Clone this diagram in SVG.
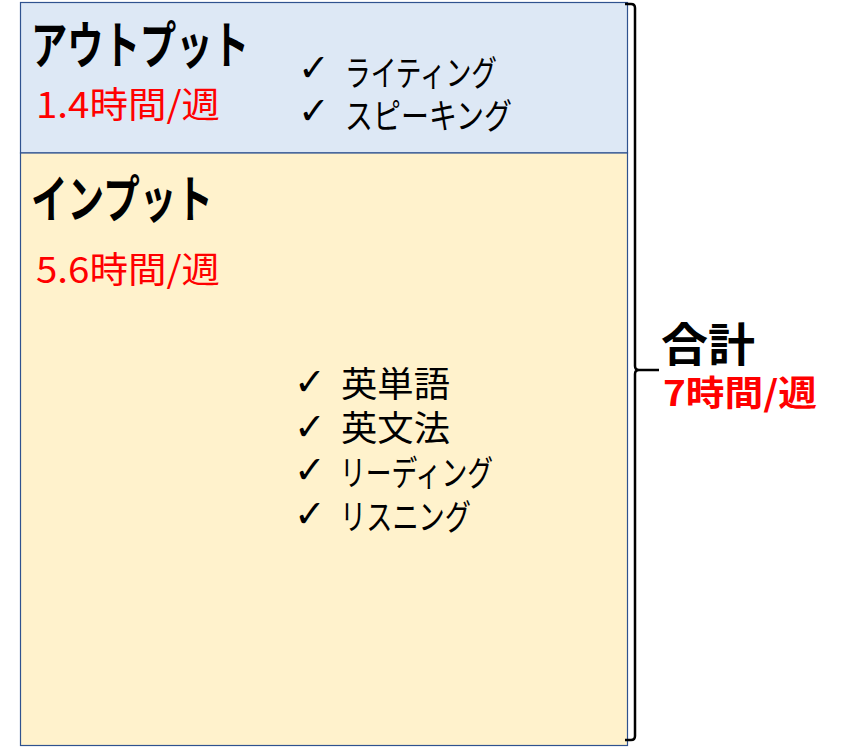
<svg xmlns="http://www.w3.org/2000/svg" width="842" height="747" viewBox="0 0 842 747">
<style>
.box{stroke:#2f528f;stroke-width:1.2}
.h{font-family:"Noto Sans CJK JP","Noto Sans",sans-serif;font-weight:700;fill:#000}
.t{font-family:"Noto Sans CJK JP","Noto Sans",sans-serif;font-weight:400;fill:#000}
.r{font-family:"Noto Sans CJK JP","Noto Sans",sans-serif;font-weight:400;fill:#ff0000}
.rb{font-family:"Noto Sans CJK JP","Noto Sans",sans-serif;font-weight:700;fill:#ff0000}
.ck{font-family:"DejaVu Sans",sans-serif;font-size:38px;font-weight:700;fill:#000}
.brace{fill:none;stroke:#000;stroke-width:2.5;stroke-linejoin:round}
</style>
<rect width="842" height="747" fill="#fff"/>
<g id="output">
<rect class="box" x="20.5" y="2.5" width="607" height="150.5" fill="#dde8f5"/>
<text class="h" x="31" y="64" font-size="51" textLength="218" lengthAdjust="spacingAndGlyphs">アウトプット</text>
<text class="r" x="36" y="118" font-size="36" textLength="184" lengthAdjust="spacingAndGlyphs">1.4時間/週</text>
<text class="ck" x="298" y="81">✓</text>
<text class="t" x="345" y="86" font-size="35" textLength="152" lengthAdjust="spacingAndGlyphs">ライティング</text>
<text class="ck" x="298" y="124">✓</text>
<text class="t" x="345" y="129" font-size="35" textLength="167" lengthAdjust="spacingAndGlyphs">スピーキング</text>
</g>
<g id="input">
<rect class="box" x="20.5" y="153" width="607" height="592.5" fill="#fff2cc"/>
<text class="h" x="31" y="218" font-size="51" textLength="182" lengthAdjust="spacingAndGlyphs">インプット</text>
<text class="r" x="36" y="283" font-size="36" textLength="184" lengthAdjust="spacingAndGlyphs">5.6時間/週</text>
<text class="ck" x="294" y="395">✓</text>
<text class="t" x="341" y="397" font-size="35" textLength="109" lengthAdjust="spacingAndGlyphs">英単語</text>
<text class="ck" x="294" y="440">✓</text>
<text class="t" x="341" y="441" font-size="35" textLength="109" lengthAdjust="spacingAndGlyphs">英文法</text>
<text class="ck" x="294" y="483">✓</text>
<text class="t" x="340" y="486" font-size="35" textLength="153" lengthAdjust="spacingAndGlyphs">リーディング</text>
<text class="ck" x="294" y="527">✓</text>
<text class="t" x="340" y="530" font-size="35" textLength="131" lengthAdjust="spacingAndGlyphs">リスニング</text>
</g>
<g id="connectors">
<path class="brace" d="M625,4 H631 Q635,4 635,8 V366 Q635,370 639,370 H659 M639,370 Q635,370 635,374 V736 Q635,740 631,740 H625"/>
</g>
<g id="total">
<text class="h" x="661" y="361" font-size="46" textLength="94" lengthAdjust="spacingAndGlyphs">合計</text>
<text class="rb" x="663" y="406" font-size="35" textLength="154" lengthAdjust="spacingAndGlyphs">7時間/週</text>
</g>
</svg>
